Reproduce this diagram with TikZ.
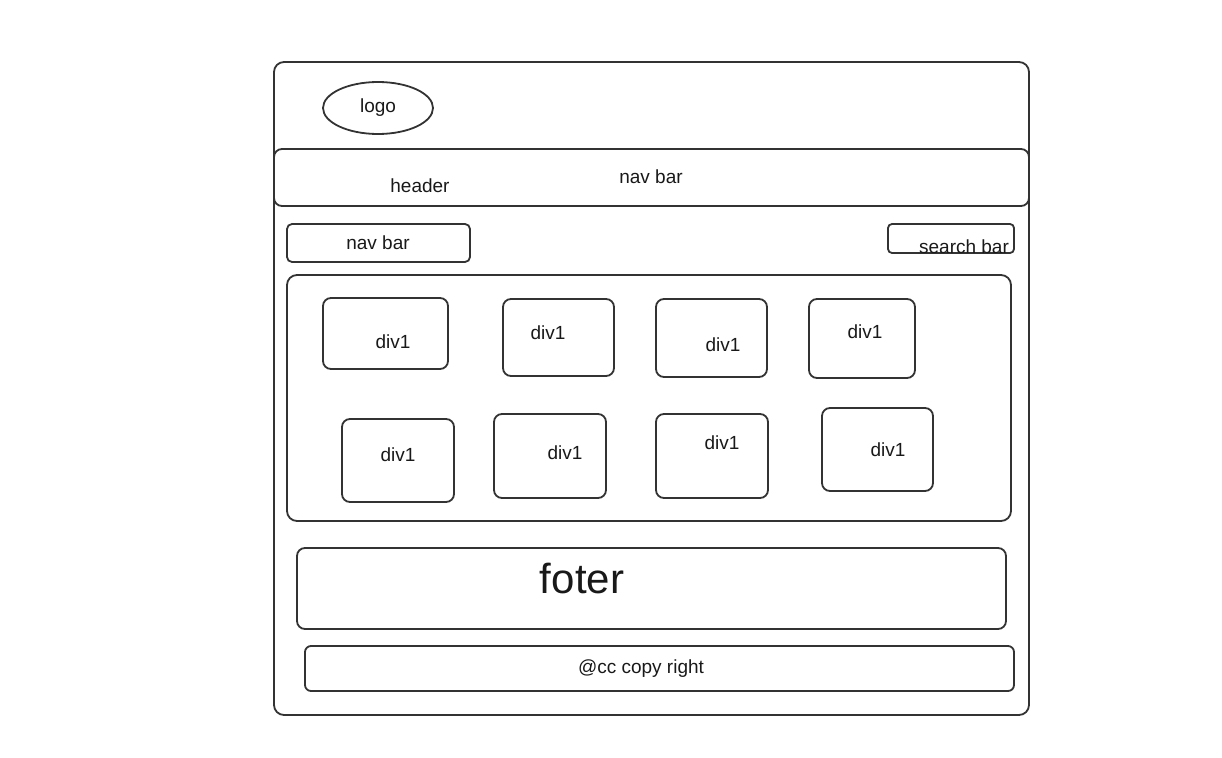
\documentclass[tikz,border=0pt]{standalone}
\usepackage{fontspec}
\setmainfont{Liberation Sans}
\usetikzlibrary{shapes.geometric}
\begin{document}
\begin{tikzpicture}[x=1pt,y=-1pt,
  box/.style={draw=black!80,line width=1.8pt,rounded corners=8pt,inner sep=0pt},
  lbl/.style={inner sep=0pt,font=\fontsize{19}{22}\selectfont,text=black!90},
  blbl/.style={lbl,anchor=base}]
\useasboundingbox (0,0) rectangle (1222,757);
% containers
\node[box,rounded corners=10pt,minimum width=755pt,minimum height=653pt] (outer) at (651.5,388.5) {};
\node[draw=black!80,line width=1.8pt,ellipse,minimum width=110pt,minimum height=52pt,inner sep=0pt] (logo) at (378,108) {};
\node[box,minimum width=755pt,minimum height=57pt] (header) at (651.5,177.5) {};
\node[box,rounded corners=5pt,minimum width=183pt,minimum height=38pt] (navbox) at (378.5,243) {};
\node[box,rounded corners=4pt,minimum width=126pt,minimum height=29pt] (search) at (951,238.5) {};
\node[box,rounded corners=10pt,minimum width=724pt,minimum height=246pt] (main) at (649,398) {};
% divs
\node[box,minimum width=125pt,minimum height=71pt] (dA) at (385.5,333.5) {};
\node[box,minimum width=111pt,minimum height=77pt] (dB) at (558.5,337.5) {};
\node[box,minimum width=111pt,minimum height=78pt] (dC) at (711.5,338) {};
\node[box,minimum width=106pt,minimum height=79pt] (dD) at (862,338.5) {};
\node[box,minimum width=112pt,minimum height=83pt] (dE) at (398,460.5) {};
\node[box,minimum width=112pt,minimum height=84pt] (dF) at (550,456) {};
\node[box,minimum width=112pt,minimum height=84pt] (dG) at (712,456) {};
\node[box,minimum width=111pt,minimum height=83pt] (dH) at (877.5,449.5) {};
% footer
\node[box,minimum width=709pt,minimum height=81pt] (footer) at (651.5,588.5) {};
\node[box,rounded corners=6pt,minimum width=709pt,minimum height=45pt] (copy) at (659.5,668.5) {};
% texts
\node[blbl] (tlogo) at (378,113) {logo};
\node[blbl] (theader) at (420,192) {header};
\node[blbl] (tnav1) at (651,183) {nav bar};
\node[blbl] (tnav2) at (378,249) {nav bar};
\node[blbl] (tsearch) at (964,253) {search bar};
\node[lbl] (tA) at (393,342) {div1};
\node[lbl] (tB) at (548,333) {div1};
\node[lbl] (tC) at (723,345) {div1};
\node[lbl] (tD) at (865,332) {div1};
\node[lbl] (tE) at (398,455) {div1};
\node[lbl] (tF) at (565,453) {div1};
\node[lbl] (tG) at (722,443) {div1};
\node[lbl] (tH) at (888,450) {div1};
\node[blbl,font=\fontsize{42}{46}\selectfont] (tfooter) at (582,593) {foter};
\node[blbl] (tcopy) at (641,673) {@cc copy right};
\end{tikzpicture}
\end{document}
